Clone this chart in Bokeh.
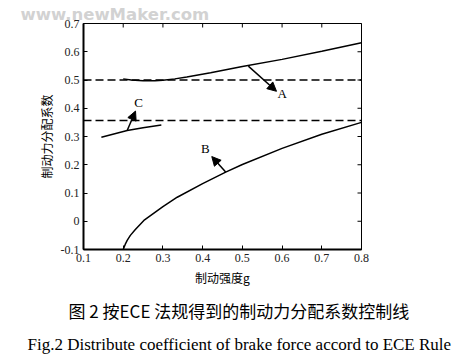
import math
from bokeh.plotting import figure
from bokeh.models import Range1d, FixedTicker, LinearAxis, Title, Arrow, NormalHead, ColumnDataSource
from bokeh.core.properties import value
from bokeh.embed import file_html
from bokeh.resources import INLINE

# ---- data ----
a_x = [0.2, 0.22, 0.25, 0.28, 0.30, 0.33, 0.36, 0.42, 0.50, 0.60, 0.70, 0.80]
a_y = [0.504, 0.500, 0.497, 0.497, 0.499, 0.504, 0.511, 0.526, 0.548, 0.573, 0.602, 0.632]
b_x = [0.2, 0.205, 0.21, 0.218, 0.23, 0.252, 0.30, 0.336, 0.40, 0.458, 0.50, 0.60, 0.70, 0.80]
b_y = [-0.1, -0.082, -0.068, -0.050, -0.030, 0.003, 0.052, 0.085, 0.133, 0.174, 0.201, 0.258, 0.308, 0.350]
c_x = [0.145, 0.21, 0.25, 0.296]
c_y = [0.297, 0.321, 0.331, 0.341]
dash_x = [0.1, 0.8]
dash_upper = [0.5, 0.5]
dash_lower = [0.357, 0.357]

labels = ["A", "B", "C"]
label_x = [0.600, 0.407, 0.239]
label_y = [0.453, 0.258, 0.421]
arrow_x0 = [0.515, 0.458, 0.210]
arrow_y0 = [0.549, 0.174, 0.321]
arrow_x1 = [0.586, 0.423, 0.231]
arrow_y1 = [0.460, 0.229, 0.390]

x_ticks = [0.1, 0.2, 0.3, 0.4, 0.5, 0.6, 0.7, 0.8]
x_tick_labels = ["0.1", "0.2", "0.3", "0.4", "0.5", "0.6", "0.7", "0.8"]
y_ticks = [-0.1, 0.0, 0.1, 0.2, 0.3, 0.4, 0.5, 0.6, 0.7]
y_tick_labels = ["-0.1", "0", "0.1", "0.2", "0.3", "0.4", "0.5", "0.6", "0.7"]

y_title = "制动力分配系数"
x_title = "制动强度g"
caption_cn = "图 2  按ECE 法规得到的制动力分配系数控制线"
caption_en = "Fig.2 Distribute coefficient of brake force accord to ECE Rule"
watermark = "www.newMaker.com"

# ---- layout ----
W, H = 457, 362
FL, FR, FT, FB = 83, 361, 23, 249
X0, X1 = 0.1, 0.8
Y0, Y1 = -0.1, 0.7

p = figure(width=W, height=H, output_backend="svg", toolbar_location=None,
           x_range=Range1d(X0, X1), y_range=Range1d(Y0, Y1),
           min_border_left=FL, min_border_right=W - FR,
           min_border_top=FT, min_border_bottom=H - FB,
           x_axis_location=None, y_axis_location=None, title=None)
p.grid.visible = False
p.outline_line_color = "black"
p.outline_line_width = 1
p.background_fill_color = "white"
p.border_fill_color = "white"

tick_font = "Liberation Serif"
cjk_font = "Noto Sans CJK SC"

def make_axis(ticks, labels_, title, standoff):
    ax = LinearAxis(ticker=FixedTicker(ticks=ticks))
    ax.major_label_overrides = {t: l for t, l in zip(ticks, labels_)}
    ax.major_tick_in = 4
    ax.major_tick_out = 0
    ax.minor_tick_in = 0
    ax.minor_tick_out = 0
    ax.axis_line_width = 2
    ax.major_tick_line_width = 1
    ax.major_label_text_font = tick_font
    ax.major_label_text_font_size = "12px"
    ax.major_label_text_color = "#222222"
    ax.major_label_standoff = 4
    ax.axis_label = title
    ax.axis_label_text_font = cjk_font
    ax.axis_label_text_font_size = "12px"
    ax.axis_label_text_font_style = "normal"
    ax.axis_label_text_color = "black"
    ax.axis_label_standoff = standoff
    return ax

p.add_layout(make_axis(x_ticks, x_tick_labels, x_title, 4), "below")
p.add_layout(make_axis(y_ticks, y_tick_labels, y_title, 3), "left")

# inward ticks on top and right edges (half of each dash is clipped by the frame)
p.scatter(x_ticks, [Y1] * len(x_ticks), marker="dash", angle=math.pi / 2, size=8,
          line_color="black", line_width=1)
p.scatter([X1] * len(y_ticks), y_ticks, marker="dash", size=8,
          line_color="black", line_width=1)

p.line(dash_x, dash_upper, line_color="black", line_width=1.5, line_dash="8 4")
p.line(dash_x, dash_lower, line_color="black", line_width=1.5, line_dash="8 4")
p.line(a_x, a_y, line_color="black", line_width=1.5)
p.line(b_x, b_y, line_color="black", line_width=1.5)
p.line(c_x, c_y, line_color="black", line_width=1.5)

for x0, y0, x1, y1 in zip(arrow_x0, arrow_y0, arrow_x1, arrow_y1):
    p.add_layout(Arrow(x_start=x0, y_start=y0, x_end=x1, y_end=y1, line_width=1.5,
                       end=NormalHead(size=9, fill_color="black", line_color="black")))

src = ColumnDataSource(dict(x=label_x, y=label_y, t=labels))
p.text(x="x", y="y", text="t", source=src, text_font=value(tick_font),
       text_font_size="13px", text_align="center", text_baseline="middle", text_color="black")

# watermark above the plot
wm = Title(text=watermark, align="left", offset=-63, text_font="DejaVu Sans",
           text_font_size="16.5px", text_font_style="bold", text_color="#d2d2d2", standoff=0)
p.add_layout(wm, "above")

# captions below
t_cn = Title(text=caption_cn, align="left", offset=-15, text_font=cjk_font, text_font_size="17px",
             text_font_style="normal", text_color="black", standoff=15)
t_en = Title(text=caption_en, align="left", offset=-56, text_font="Liberation Serif", text_font_size="17px",
             text_font_style="normal", text_color="black", standoff=5)
p.add_layout(t_cn, "below")
p.add_layout(t_en, "below")

open("out.html", "w").write(file_html(p, INLINE))
